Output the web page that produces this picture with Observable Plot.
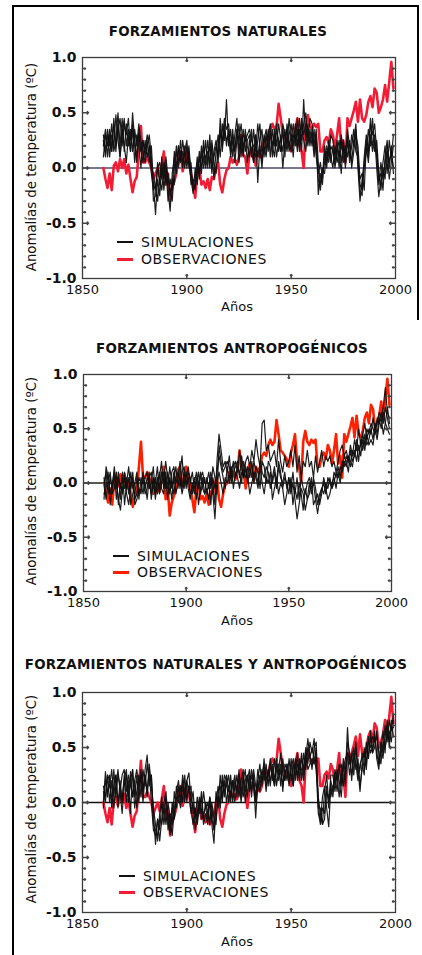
<!DOCTYPE html>
<html><head><meta charset="utf-8">
<script src="https://cdn.jsdelivr.net/npm/d3@7"></script>
<script src="https://cdn.jsdelivr.net/npm/@observablehq/plot@0.6"></script>
<style>
body{margin:0;background:#fff;}
#page{position:relative;width:422px;height:955px;overflow:hidden;font-family:"DejaVu Sans",Verdana,sans-serif;color:#111;}
.bline{position:absolute;background:#000;}
.title{position:absolute;width:420px;text-align:center;font-weight:bold;font-size:13.4px;line-height:16px;letter-spacing:0.25px;}
.ylab{position:absolute;width:300px;height:16px;line-height:16px;text-align:center;font-size:13.3px;transform:rotate(-90deg);}
.xlab{position:absolute;width:100px;text-align:center;font-size:13px;line-height:16px;}
.legtxt{position:absolute;font-size:14px;line-height:16px;letter-spacing:0.6px;}
.sw{position:absolute;width:16px;}
.panel{position:absolute;left:0;}
.panel svg [aria-label="y-axis tick label"]{font-weight:bold;font-size:14px;}
</style></head>
<body><div id="page"></div>
<script>
// ---------- data (hundredths of °C), one value per year 1860..1999 ----------
const firstYear = 1860;
const years = d3.range(firstYear, 2000);

const obs = [
  0,-10,-18,-5,-20,2,5,-3,8,0,
  8,-5,3,-10,-22,-12,-8,15,38,5,
  5,10,5,0,-10,-5,0,-8,3,15,
  -15,-5,-30,-18,-12,-5,12,15,-3,5,
  15,8,-5,-15,-27,-5,0,-15,-12,-18,
  -10,-20,-8,-10,0,5,-15,-22,-10,-2,
  0,10,5,8,3,10,30,12,10,-5,
  12,18,15,2,15,10,15,25,28,25,
  35,40,35,38,58,45,30,28,25,22,
  15,28,35,45,20,15,0,38,48,38,
  35,40,37,40,15,15,25,28,22,35,
  30,18,30,45,18,25,5,45,38,45,
  52,60,42,62,45,42,48,60,65,55,
  72,68,50,55,62,75,60,78,96,72
];

// Panel 1: natural forcings, 4 runs
const nat1 = [
  30,15,35,10,30,20,48,25,10,35,
  20,5,30,15,50,25,10,30,15,25,
  10,25,5,20,-15,-42,-10,-25,0,-10,
  5,-20,-39,-5,10,-5,20,5,15,0,
  20,5,-10,-23,0,-15,10,0,20,5,
  25,5,20,-10,15,30,10,40,25,62,
  20,35,10,30,45,15,30,10,35,20,
  10,35,5,30,-13,20,5,30,15,35,
  10,35,20,40,15,30,0,25,35,15,
  30,10,40,20,35,15,62,25,40,20,
  35,15,30,-24,-5,-15,15,0,20,5,
  20,0,15,25,5,20,0,25,10,30,
  20,35,0,-30,-10,5,25,10,45,20,
  30,0,-26,-10,5,20,-5,25,10,30
];
const nat2 = [
  20,35,10,30,15,40,20,35,45,20,
  40,30,45,15,35,5,30,20,0,25,
  15,30,20,0,-5,-20,5,-15,10,-20,
  0,-30,-10,-20,15,0,20,5,25,10,
  5,20,-5,-15,-10,10,-5,20,5,25,
  0,30,0,10,20,5,45,20,35,25,
  30,15,35,5,25,40,10,35,15,25,
  30,10,35,15,40,20,0,25,35,20,
  30,10,35,20,40,25,15,35,20,45,
  25,40,20,35,15,45,30,40,20,35,
  20,35,10,-5,5,-10,20,5,25,10,
  0,20,5,15,-5,25,10,30,5,20,
  35,15,10,-15,-20,0,15,35,20,45,
  15,25,-5,-20,0,-10,20,5,15,0
];
const nat3 = [
  10,30,20,35,15,45,15,40,10,30,
  45,20,35,25,40,20,5,35,15,5,
  25,10,20,-5,-20,-15,-30,-10,-20,0,
  10,-10,-20,-30,0,20,0,15,5,20,
  0,15,-15,-10,-20,5,-10,15,0,10,
  15,0,25,5,-5,20,35,15,40,20,
  35,10,25,15,35,5,25,15,30,5,
  25,15,5,30,10,25,35,10,30,15,
  35,20,30,10,25,15,35,10,40,25,
  15,30,25,45,20,40,25,15,35,25,
  30,10,25,-10,-20,0,-5,15,5,20,
  15,5,20,0,25,5,20,10,25,0,
  15,30,20,-10,-5,-20,20,5,30,15,
  25,10,-15,5,-10,5,15,-10,5,20
];
const nat4 = [
  25,10,30,20,40,15,25,50,20,45,
  15,40,20,35,15,35,20,40,25,15,
  5,20,30,10,-30,-25,0,5,-10,5,
  -15,-5,-25,-10,-15,15,5,25,0,15,
  25,0,5,-20,-15,-5,15,-5,25,0,
  10,20,-5,15,25,10,30,25,45,35,
  40,20,30,15,35,25,40,20,25,30,
  35,25,20,10,25,40,15,20,10,30,
  40,20,10,35,25,15,40,30,15,30,
  40,20,30,15,45,25,40,50,25,45,
  40,20,35,5,-15,-5,5,20,10,30,
  25,10,25,10,30,15,5,35,20,5,
  25,40,5,-20,-25,10,30,15,40,30,
  40,15,-10,-5,-20,10,25,0,20,-5
];

// Panel 2: anthropogenic forcings, 4 runs
const ant1 = [
  -15,15,5,-10,0,10,-15,5,-5,10,
  -20,0,15,-5,5,-15,-10,5,0,-10,
  5,10,-5,0,15,-10,5,-5,10,0,
  20,5,-10,10,15,0,5,20,-5,10,
  0,5,-10,-5,5,-15,0,10,-5,-10,
  5,-5,10,0,-20,20,45,30,15,20,
  10,25,5,15,20,10,30,15,5,20,
  25,15,30,20,40,25,15,55,58,30,
  35,20,25,30,15,40,20,10,25,15,
  20,30,15,35,10,25,5,20,15,30,
  15,20,5,25,10,20,30,15,25,20,
  25,15,20,10,20,30,35,25,30,20,
  35,25,40,30,50,35,45,55,40,50,
  45,60,50,55,65,60,70,88,65,60
];
const ant2 = [
  -10,-5,10,-20,-5,5,0,-15,-25,-5,
  5,-10,-20,-5,10,-20,-15,-5,-10,5,
  -10,-5,10,-15,0,5,-10,5,20,-5,
  5,-15,5,-5,10,-10,0,5,-10,0,
  10,-5,-15,0,-10,5,-20,-5,5,-10,
  -5,-15,5,-10,-33,0,10,0,-10,5,
  0,5,15,-5,10,5,-5,10,5,15,
  5,-10,0,10,5,-5,15,0,-10,5,
  0,10,-15,-5,5,-10,0,-5,-20,-10,
  5,-10,0,-15,-33,-20,-5,-10,-25,-15,
  0,-10,5,-5,-20,-10,-5,0,-10,5,
  0,-5,10,5,15,5,20,15,25,20,
  15,30,25,35,20,40,30,45,35,40,
  50,40,55,45,60,50,65,55,50,45
];
const ant3 = [
  5,-15,0,10,-10,-5,10,-20,0,-10,
  10,-5,5,-20,-10,0,10,-15,5,0,
  0,-15,5,10,-5,0,15,-10,0,10,
  -5,10,0,-15,5,15,-5,10,25,-5,
  5,15,0,10,-5,0,10,-10,0,5,
  -10,0,-20,5,-5,10,25,15,5,-5,
  15,0,10,20,5,15,10,0,20,10,
  0,15,5,20,10,0,20,10,5,15,
  10,-5,5,15,0,20,10,-5,5,0,
  -10,5,-20,-5,-15,0,-10,-25,-5,-15,
  -10,5,-20,-15,-28,-15,-5,-10,0,-5,
  5,-5,0,10,5,15,10,20,15,25,
  20,15,30,20,35,25,40,30,45,35,
  40,35,50,40,55,60,45,55,70,55
];
const ant4 = [
  0,10,-10,5,-5,15,-5,10,-15,5,
  -5,5,-10,10,-5,-10,5,-10,-5,10,
  -5,5,0,-10,5,-15,0,10,-5,-10,
  10,-5,15,0,-10,5,10,-5,10,15,
  -5,10,5,-10,0,10,-5,5,10,0,
  0,10,-5,15,5,-10,35,20,10,15,
  20,15,0,10,15,20,5,25,10,5,
  15,5,20,0,15,10,-5,20,15,0,
  20,15,0,10,-5,15,5,0,10,-5,
  5,-5,10,-10,5,-15,5,-5,-10,0,
  5,-5,0,-15,-10,-20,-10,5,-5,-15,
  -10,0,5,-5,10,0,15,25,20,10,
  30,20,25,40,30,35,45,35,50,45,
  55,50,45,60,55,65,55,70,60,50
];

// Panel 3: natural + anthropogenic forcings, 4 runs
const all1 = [
  0,28,5,25,-5,15,25,-5,20,0,
  25,0,20,-10,30,5,25,0,25,10,
  30,43,15,25,-10,-38,-15,-25,0,-10,
  5,-25,-10,-20,10,-5,15,0,20,5,
  20,27,0,10,-15,5,-10,10,-15,0,
  -10,5,-20,-37,0,15,-5,20,5,25,
  10,25,0,20,10,30,5,25,0,20,
  30,5,25,0,20,35,15,40,20,30,
  15,35,20,40,25,35,15,30,20,40,
  20,35,25,45,20,40,30,50,35,55,
  45,58,30,5,-10,-20,10,25,0,20,
  10,30,20,35,15,40,25,68,35,45,
  25,50,30,10,35,25,55,40,60,45,
  60,45,35,55,45,70,55,75,65,80
];
const all2 = [
  15,5,25,0,20,-5,15,30,10,-10,
  15,25,0,28,5,20,-5,15,30,10,
  25,10,35,15,-5,-20,-35,-10,5,-20,
  -5,-10,-25,0,-15,10,20,0,25,10,
  5,15,-5,-20,-5,-15,0,-10,10,-5,
  -15,5,-5,-25,10,-5,25,5,20,0,
  15,0,20,10,25,5,20,30,10,25,
  10,25,15,5,30,15,30,20,35,15,
  35,20,40,15,30,45,25,20,35,20,
  40,15,35,25,40,20,45,30,50,45,
  30,50,55,0,-20,-5,-10,15,-5,25,
  25,10,30,20,5,30,40,45,25,40,
  50,30,40,15,30,50,35,60,45,50,
  65,40,30,50,40,60,70,55,75,60
];
const all3 = [
  -5,20,10,15,30,5,25,0,10,25,
  30,10,25,15,5,20,30,15,25,0,
  25,5,30,0,-25,-30,-15,-35,-15,0,
  10,-15,-29,-5,-15,15,5,-5,15,0,
  20,10,15,-10,-5,-20,-5,5,-20,-10,
  -20,0,-15,-25,-15,5,0,25,10,15,
  25,5,20,0,15,20,0,20,30,5,
  25,10,30,15,10,25,20,30,10,30,
  20,30,15,35,20,30,10,35,30,15,
  30,40,20,35,30,45,25,40,58,40,
  50,40,30,-10,-18,5,15,-5,-22,15,
  5,25,10,30,35,15,30,45,40,25,
  40,55,25,30,45,30,50,40,65,45,
  50,65,45,35,55,50,60,65,55,75
];
const all4 = [
  10,0,25,20,0,30,5,25,15,5,
  20,30,5,20,30,-5,10,25,5,30,
  15,35,20,25,-20,-25,-30,-15,-20,-5,
  -20,0,-15,-30,-5,5,0,15,0,25,
  0,15,-10,0,-25,-10,5,-15,-10,-5,
  0,-20,0,-15,-20,10,15,0,25,20,
  0,20,15,25,5,25,15,5,20,25,
  15,30,20,-14,20,10,25,35,15,25,
  40,25,15,30,35,15,40,20,35,25,
  25,15,40,20,35,30,20,45,30,35,
  40,35,50,-5,-5,-20,-15,10,5,5,
  15,20,25,5,25,35,15,55,45,20,
  45,35,20,35,40,45,30,55,50,60,
  55,60,35,45,65,45,75,50,70,68
];

// ---------- text & ticks ----------
const titles = ["FORZAMIENTOS NATURALES", "FORZAMIENTOS ANTROPOGÉNICOS", "FORZAMIENTOS NATURALES Y ANTROPOGÉNICOS"];
const yLabel = "Anomalías de temperatura (ºC)";
const xLabel = "Años";
const legendLabels = ["SIMULACIONES", "OBSERVACIONES"];
const xTicks = [1850, 1900, 1950, 2000];
const xInnerTicks = [1900, 1950];
const yTicks = [-1.0, -0.5, 0.0, 0.5, 1.0];
const yMinorTicks = [-0.9,-0.8,-0.7,-0.6,-0.4,-0.3,-0.2,-0.1,0.1,0.2,0.3,0.4,0.6,0.7,0.8,0.9];
const yMajorInner = [-0.5, 0.0, 0.5];

// ---------- layout ----------
const page = document.getElementById("page");
function add(cls, style, text) {
  const d = document.createElement("div");
  d.className = cls;
  Object.assign(d.style, style);
  if (text != null) d.textContent = text;
  page.appendChild(d);
  return d;
}
// outer frame
add("bline", {left: "12px", top: "5px", width: "406px", height: "2px"});
add("bline", {left: "12px", top: "5px", width: "2px", height: "950px"});
add("bline", {left: "417px", top: "5px", width: "2px", height: "315px"});

const panels = [
  {sims: [nat1, nat2, nat3, nat4], red: "#f21d35", zero: "#4a4a6e", top: 45, ml: 82, mr: 27, mb: 42,
   titleX: 218, titleY: 32, ylabY: 167, xlabY: 307, legX: 117, legY: [242, 259]},
  {sims: [ant1, ant2, ant3, ant4], red: "#ff2000", zero: "#222", top: 362, ml: 83, mr: 31, mb: 46,
   titleX: 232, titleY: 349, ylabY: 481, xlabY: 621, legX: 113, legY: [556, 572]},
  {sims: [all1, all2, all3, all4], red: "#f21d35", zero: "#111", top: 680, ml: 82, mr: 27, mb: 43,
   titleX: 216, titleY: 665, ylabY: 799, xlabY: 942, legX: 119, legY: [876, 892]}
];

panels.forEach((p, k) => {
  const simData = p.sims.flatMap((s, r) => s.map((v, j) => ({year: years[j], value: v / 100, run: r})));
  const obsData = obs.map((v, j) => ({year: years[j], value: v / 100}));
  const tickStroke = "#444";
  const svg = Plot.plot({
    width: 422, height: 275,
    marginTop: 12, marginBottom: p.mb, marginLeft: p.ml, marginRight: p.mr,
    x: {domain: [1850, 2000]},
    y: {domain: [-1, 1]},
    style: {fontFamily: "'DejaVu Sans', Verdana, sans-serif", fontSize: "13px", background: "transparent", color: "#111"},
    marks: [
      Plot.ruleY([0], {stroke: p.zero, strokeWidth: 1.3}),
      Plot.line(obsData, {x: "year", y: "value", stroke: p.red, strokeWidth: 2.6, strokeLinejoin: "round"}),
      Plot.line(simData, {x: "year", y: "value", z: "run", stroke: "#111", strokeWidth: 1.2, strokeOpacity: 0.95}),
      Plot.frame({stroke: "#3c3c3c", strokeWidth: 1.3}),
      Plot.vector(yMinorTicks, {y: d => d, frameAnchor: "left", rotate: 90, length: 3, anchor: "start", stroke: tickStroke}),
      Plot.vector(yMinorTicks, {y: d => d, frameAnchor: "right", rotate: -90, length: 3, anchor: "start", stroke: tickStroke}),
      Plot.vector(yMajorInner, {y: d => d, frameAnchor: "left", rotate: 90, length: 6, anchor: "start", stroke: tickStroke}),
      Plot.vector(yMajorInner, {y: d => d, frameAnchor: "right", rotate: -90, length: 6, anchor: "start", stroke: tickStroke}),
      Plot.vector(xInnerTicks, {x: d => d, frameAnchor: "bottom", rotate: 0, length: 4, anchor: "start", stroke: tickStroke}),
      Plot.vector(xInnerTicks, {x: d => d, frameAnchor: "top", rotate: 180, length: 4, anchor: "start", stroke: tickStroke}),
      Plot.axisX({ticks: xTicks, tickSize: 0, tickPadding: 6, tickFormat: d => String(d), label: null}),
      Plot.axisY({ticks: yTicks, tickSize: 0, tickPadding: 6, tickFormat: d => d.toFixed(1), label: null})
    ]
  });
  const wrap = add("panel", {top: p.top + "px"});
  wrap.appendChild(svg);

  add("title", {left: (p.titleX - 210) + "px", top: (p.titleY - 8) + "px"}, titles[k]);
  add("ylab", {left: (32 - 150) + "px", top: (p.ylabY - 8) + "px"}, yLabel);
  add("xlab", {left: (237 - 50) + "px", top: (p.xlabY - 8) + "px"}, xLabel);
  // legend
  add("sw", {left: p.legX + "px", top: (p.legY[0] - 1) + "px", height: "1.5px", background: "#111"});
  add("sw", {left: p.legX + "px", top: (p.legY[1] - 1.5) + "px", height: "3px", background: p.red});
  add("legtxt", {left: (p.legX + 24) + "px", top: (p.legY[0] - 8) + "px"}, legendLabels[0]);
  add("legtxt", {left: (p.legX + 24) + "px", top: (p.legY[1] - 8) + "px"}, legendLabels[1]);
});
</script>
</body></html>
